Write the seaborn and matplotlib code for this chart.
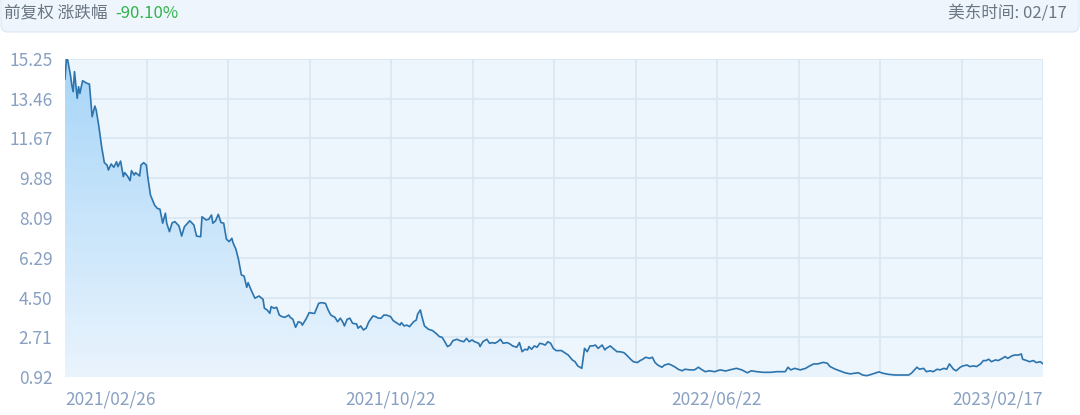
import numpy as np
import pandas as pd
import matplotlib
matplotlib.use("Agg")
import matplotlib.pyplot as plt
import matplotlib.dates as mdates
from matplotlib.patches import FancyBboxPatch
from matplotlib.colors import LinearSegmentedColormap
from matplotlib.transforms import IdentityTransform
import seaborn as sns

# Data: calendar days since the first date, and the close price
START_DATE = "2021-02-26"
END_DATE = "2023-02-17"
day_offset = [
    0, 1, 2, 4, 5, 6, 7, 9, 10, 11, 12, 13, 16, 18, 20, 22, 23, 25, 27, 29,
    31, 32, 34, 36, 38, 39, 41, 43, 44, 46, 48, 49, 51, 52, 55, 56, 58, 60, 61, 63,
    66, 68, 70, 72, 74, 75, 77, 79, 81, 84, 86, 88, 92, 95, 97, 100, 101, 104, 106, 108,
    109, 111, 113, 115, 117, 119, 121, 123, 124, 126, 128, 130, 132, 134, 135, 137, 140, 143, 146, 147,
    149, 151, 152, 154, 156, 158, 160, 162, 165, 166, 168, 170, 172, 174, 175, 178, 180, 183, 184, 187,
    189, 192, 194, 196, 199, 201, 203, 205, 206, 208, 210, 212, 215, 216, 218, 220, 222, 224, 227, 229,
    231, 233, 235, 237, 240, 242, 245, 247, 248, 250, 252, 254, 257, 259, 260, 262, 263, 265, 268, 271,
    274, 276, 278, 280, 282, 284, 286, 289, 291, 294, 296, 298, 300, 302, 305, 306, 308, 311, 313, 315,
    317, 319, 321, 323, 326, 328, 330, 333, 335, 337, 339, 341, 342, 344, 346, 348, 350, 352, 354, 356,
    358, 360, 362, 366, 369, 371, 374, 376, 378, 381, 383, 385, 387, 389, 391, 393, 396, 398, 399, 402,
    404, 407, 409, 412, 414, 417, 419, 422, 424, 426, 428, 431, 433, 435, 437, 440, 442, 445, 447, 450,
    452, 455, 457, 461, 464, 467, 469, 472, 475, 479, 483, 487, 490, 495, 499, 503, 506, 510, 515, 520,
    525, 531, 533, 535, 538, 542, 546, 549, 552, 555, 559, 562, 564, 568, 571, 575, 579, 582, 585, 588,
    591, 593, 597, 600, 603, 607, 612, 617, 622, 624, 628, 630, 633, 635, 638, 640, 643, 645, 648, 650,
    652, 655, 657, 660, 662, 665, 667, 670, 672, 675, 677, 679, 681, 683, 686, 688, 691, 693, 695, 698,
    700, 703, 705, 706, 709, 711, 714, 716, 719, 721,
]
close_price = [
    14.34, 15.24, 15.20, 14.53, 14.08, 13.78, 14.68, 13.48, 14.00, 13.70, 14.00, 14.27, 14.16, 14.12, 12.65, 13.13, 12.95, 12.20, 11.30, 10.58,
    10.47, 10.25, 10.52, 10.37, 10.62, 10.40, 10.65, 9.95, 10.13, 9.98, 9.77, 10.22, 10.02, 10.13, 9.98, 10.47, 10.58, 10.47, 9.95, 9.12,
    8.67, 8.52, 8.48, 7.85, 8.30, 7.85, 7.47, 7.87, 7.92, 7.73, 7.27, 7.69, 7.96, 7.77, 7.27, 7.24, 8.14, 8.00, 8.03, 8.22,
    7.85, 7.96, 8.25, 7.88, 7.85, 7.13, 7.02, 7.17, 6.95, 6.68, 6.19, 5.52, 5.47, 4.96, 5.17, 4.87, 4.47, 4.57, 4.42, 4.02,
    3.94, 3.79, 4.09, 4.02, 4.06, 3.71, 3.64, 3.61, 3.71, 3.61, 3.52, 3.16, 3.41, 3.37, 3.26, 3.57, 3.82, 3.79, 3.79, 4.24,
    4.27, 4.24, 3.94, 3.71, 3.61, 3.41, 3.57, 3.37, 3.22, 3.52, 3.57, 3.34, 3.31, 3.12, 3.22, 3.04, 3.12, 3.41, 3.67, 3.64,
    3.57, 3.57, 3.71, 3.71, 3.64, 3.46, 3.34, 3.26, 3.37, 3.22, 3.26, 3.19, 3.41, 3.49, 3.76, 3.94, 3.67, 3.22, 3.07, 3.01,
    2.86, 2.74, 2.71, 2.51, 2.29, 2.36, 2.56, 2.62, 2.56, 2.51, 2.66, 2.51, 2.59, 2.51, 2.44, 2.29, 2.51, 2.62, 2.44, 2.47,
    2.44, 2.51, 2.62, 2.44, 2.47, 2.41, 2.32, 2.26, 2.47, 2.06, 2.17, 2.14, 2.29, 2.17, 2.32, 2.26, 2.44, 2.41, 2.36, 2.51,
    2.44, 2.21, 2.11, 2.11, 1.99, 1.91, 1.69, 1.61, 1.42, 1.31, 2.21, 2.06, 2.32, 2.32, 2.36, 2.21, 2.36, 2.14, 2.21, 2.32,
    2.21, 2.06, 2.06, 2.02, 1.91, 1.72, 1.61, 1.57, 1.66, 1.72, 1.81, 1.76, 1.81, 1.57, 1.46, 1.36, 1.46, 1.51, 1.46, 1.36,
    1.27, 1.20, 1.27, 1.24, 1.24, 1.36, 1.27, 1.16, 1.20, 1.16, 1.24, 1.19, 1.24, 1.31, 1.24, 1.11, 1.20, 1.16, 1.13, 1.13,
    1.16, 1.16, 1.36, 1.24, 1.31, 1.24, 1.31, 1.42, 1.51, 1.51, 1.58, 1.54, 1.39, 1.27, 1.20, 1.11, 1.06, 1.09, 1.11, 1.01,
    0.98, 1.01, 1.09, 1.15, 1.09, 1.04, 1.01, 1.01, 1.01, 1.09, 1.36, 1.27, 1.31, 1.16, 1.20, 1.16, 1.27, 1.24, 1.31, 1.27,
    1.51, 1.27, 1.20, 1.36, 1.42, 1.46, 1.39, 1.42, 1.39, 1.51, 1.66, 1.66, 1.72, 1.61, 1.69, 1.66, 1.76, 1.84, 1.76, 1.87,
    1.91, 1.91, 1.96, 1.72, 1.66, 1.61, 1.66, 1.57, 1.61, 1.51,
]
y_tick_values = [15.25, 13.46, 11.67, 9.88, 8.09, 6.29, 4.50, 2.71, 0.92]
x_tick_labels = ["2021/02/26", "2021/10/22", "2022/06/22", "2023/02/17"]
header_left = "前复权 涨跌幅"
change_pct = "-90.10%"
header_right = "美东时间: 02/17"

sns.set_theme(style="white")
plt.rcParams["font.family"] = ["Noto Sans CJK SC", "DejaVu Sans"]

df = pd.DataFrame({
    "date": pd.Timestamp(START_DATE) + pd.to_timedelta(day_offset, unit="D"),
    "close": close_price,
})

W, H = 1080, 415
fig = plt.figure(figsize=(W / 100, H / 100), dpi=100)
fig.patch.set_facecolor("white")
ax = fig.add_axes([65 / W, 38 / H, 978 / W, 318 / H])
ax.set_facecolor("#edf5fd")

x0 = mdates.date2num(pd.Timestamp(START_DATE))
x1 = mdates.date2num(pd.Timestamp(END_DATE))
y0, y1 = min(y_tick_values), max(y_tick_values)

# gradient area under the line, clipped to the fill polygon
poly = ax.fill_between(df["date"], df["close"], y0, facecolor="none", edgecolor="none")
grad = np.linspace(1, 0, 256).reshape(-1, 1)
cmap = LinearSegmentedColormap.from_list("area", ["#eaf4fd", "#a6d5f8"])
im = ax.imshow(grad, cmap=cmap, aspect="auto", extent=[x0, x1, y0, y1],
               origin="upper", zorder=1, interpolation="bilinear")
im.set_clip_path(poly.get_paths()[0], transform=ax.transData)

sns.lineplot(data=df, x="date", y="close", ax=ax, color="#2c74ad", linewidth=1.2, zorder=3)

ax.set_xlim(x0, x1)
ax.set_ylim(y0, y1)

grid_x = np.linspace(x0, x1, 13)
ax.set_xticks(grid_x)
labels = [""] * 13
for i, lab in zip([0, 4, 8, 12], x_tick_labels):
    labels[i] = lab
ax.set_xticklabels(labels)
ax.set_yticks(y_tick_values)
ax.set_yticklabels([f"{v:.2f}" for v in y_tick_values])
ax.grid(True, color="#dbe7f1", linewidth=1.3, zorder=0)
ax.set_axisbelow(True)
ax.tick_params(axis="both", length=0, labelsize=12.5, colors="#88a0c2")
ax.tick_params(axis="x", pad=10)
ax.tick_params(axis="y", pad=9)
ticks = ax.get_xticklabels()
ticks[0].set_ha("left")
ticks[-1].set_ha("right")
ax.set_xlabel("")
ax.set_ylabel("")
for s in ax.spines.values():
    s.set_visible(False)

# header bar
hdr = FancyBboxPatch((1, H - 32), W - 2, 44, boxstyle="round,pad=0,rounding_size=7",
                     facecolor="#eef5fc", edgecolor="#e2ecf6", linewidth=1,
                     transform=IdentityTransform())
fig.add_artist(hdr)
fig.text(4 / W, 1 - 13 / H, header_left, ha="left", va="center", fontsize=12, color="#6b7683")
fig.text(115 / W, 1 - 13 / H, change_pct, ha="left", va="center", fontsize=12, color="#2fb44c")
fig.text(1067 / W, 1 - 13 / H, header_right, ha="right", va="center", fontsize=12, color="#6b7683")

fig.savefig("out.png", dpi=100)
